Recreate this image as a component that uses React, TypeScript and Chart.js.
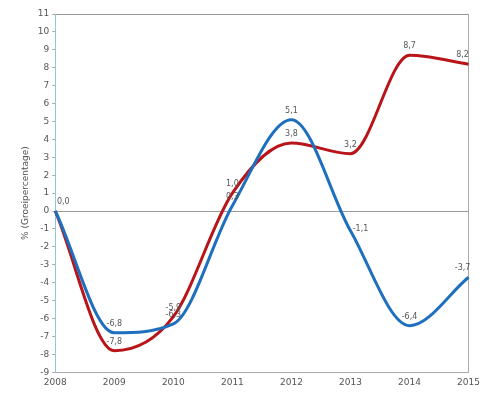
import React, { useEffect, useRef } from "react";
import { Chart, registerables } from "chart.js";

Chart.register(...registerables);

const years = ["2008", "2009", "2010", "2011", "2012", "2013", "2014", "2015"];
const blueSeries = [0.0, -6.8, -6.3, 0.3, 5.1, -1.1, -6.4, -3.7];
const redSeries = [0.0, -7.8, -5.9, 1.0, 3.8, 3.2, 8.7, 8.2];
const yTitle = "% (Groeipercentage)";

const fmt = (v: number) => v.toFixed(1).replace(".", ",");

const labelPlugin = {
  id: "valueLabels",
  afterDatasetsDraw(chart: any) {
    const ctx = chart.ctx;
    ctx.save();
    ctx.font = "8px 'DejaVu Sans', sans-serif";
    ctx.fillStyle = "#555";
    ctx.textAlign = "center";
    ctx.textBaseline = "bottom";
    chart.data.datasets.forEach((ds: any, i: number) => {
      const meta = chart.getDatasetMeta(i);
      meta.data.forEach((pt: any, j: number) => {
        const v = ds.data[j];
        let dx = 0;
        let dy = -5;
        if (j === 0) { dx = 8; if (i === 1) return; }
        if (j === 5 && i === 0) { dx = 10; dy = 2; }
        if (j === 7) dx = -6;
        ctx.fillText(fmt(v), pt.x + dx, pt.y + dy);
      });
    });
    ctx.restore();
  },
};

export default function App() {
  const ref = useRef<HTMLCanvasElement>(null);
  useEffect(() => {
    if (!ref.current) return;
    const chart = new Chart(ref.current, {
      type: "line",
      data: {
        labels: years,
        datasets: [
          {
            data: blueSeries,
            borderColor: "#1f6fbf",
            borderWidth: 3,
            pointRadius: 0,
            cubicInterpolationMode: "monotone",
            fill: false,
          },
          {
            data: redSeries,
            borderColor: "#b8141a",
            borderWidth: 3,
            pointRadius: 0,
            cubicInterpolationMode: "monotone",
            fill: false,
          },
        ],
      },
      options: {
        animation: false,
        responsive: true,
        maintainAspectRatio: false,
        layout: { padding: { left: 16, right: -8, top: 14, bottom: 0 } },
        plugins: { legend: { display: false }, tooltip: { enabled: false } },
        scales: {
          x: {
            offset: false,
            grid: {
              color: (c: any) => (c.index === years.length - 1 ? "#aaa" : "transparent"),
              drawTicks: false,
            },
            border: { color: "#aaa" },
            ticks: {
              autoSkip: false,
              maxRotation: 0,
              padding: 5,
              color: "#555",
              font: { family: "'DejaVu Sans', sans-serif", size: 9 },
            },
          },
          y: {
            min: -9,
            max: 11,
            ticks: {
              stepSize: 1,
              padding: 3,
              color: "#555",
              font: { family: "'DejaVu Sans', sans-serif", size: 9 },
            },
            grid: {
              color: (c: any) =>
                c.tick && (c.tick.value === 0 || c.tick.value === 11) ? "#999" : "transparent",
              tickColor: "#aaa",
              tickLength: 3,
            },
            border: { color: "#8cc8d8" },
            title: {
              display: true,
              text: yTitle,
              color: "#555",
              font: { family: "'DejaVu Sans', sans-serif", size: 9 },
              padding: 4,
            },
          },
        },
      },
      plugins: [labelPlugin],
    });
    return () => chart.destroy();
  }, []);
  return (
    <div style={{ position: "fixed", left: 0, top: 0, width: 485, height: 393, background: "#fff" }}>
      <canvas ref={ref} />
    </div>
  );
}
